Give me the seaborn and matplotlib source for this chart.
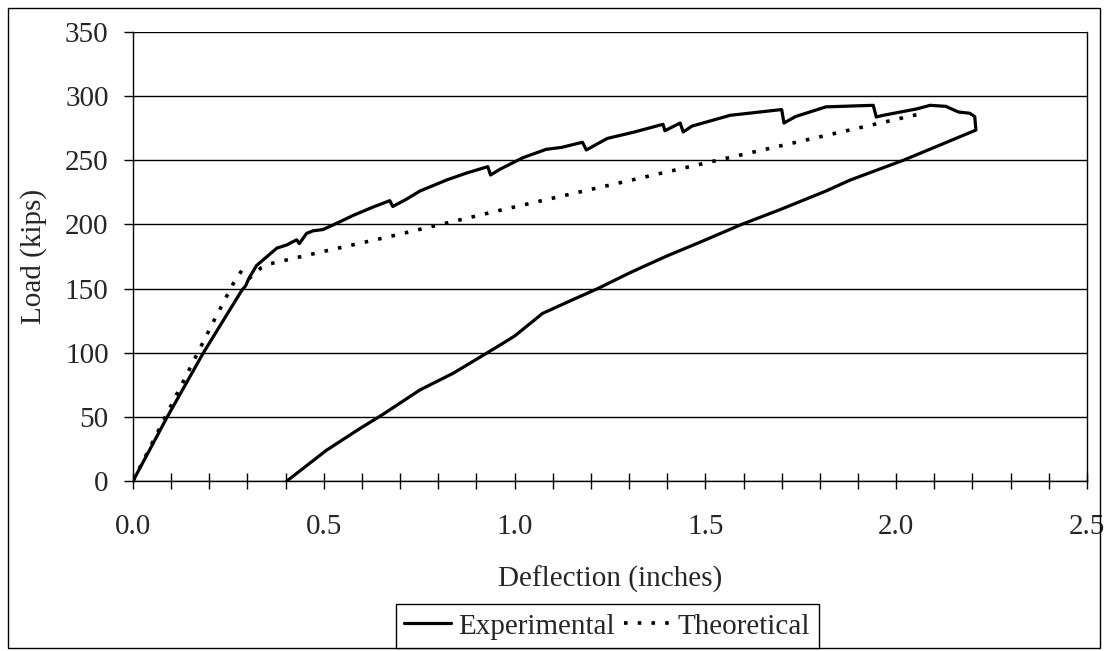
import pandas as pd
import matplotlib.pyplot as plt
import seaborn as sns
from matplotlib.ticker import MultipleLocator
from matplotlib.patches import Rectangle

# Experimental load-deflection curve (loading then unloading)
exp_defl = [0, 0.088, 0.184, 0.286, 0.295, 0.304, 0.324, 0.35, 0.377, 0.403, 0.429,
            0.436, 0.455, 0.472, 0.498, 0.524, 0.577, 0.629, 0.673, 0.681, 0.717,
            0.752, 0.822, 0.874, 0.93, 0.937, 0.962, 1.022, 1.083, 1.123, 1.178,
            1.188, 1.243, 1.314, 1.389, 1.394, 1.434, 1.442, 1.465, 1.565, 1.70,
            1.706, 1.736, 1.816, 1.94, 1.948, 1.966, 2.054, 2.089, 2.13, 2.163,
            2.193, 2.206, 2.209,
            2.1, 2.019, 1.879, 1.816, 1.7, 1.595, 1.485, 1.4, 1.344, 1.3, 1.218,
            1.15, 1.073, 1.05, 1.0, 0.962, 0.927, 0.839, 0.752, 0.652, 0.595,
            0.507, 0.403]
exp_load = [0, 49, 99.7, 149, 152, 158, 168, 174.6, 181.5, 184, 188,
            185, 193, 195, 196, 199.5, 207, 213.5, 218.5, 214, 219.7,
            226, 234.6, 240, 245, 238.5, 243, 252, 258.5, 260, 264,
            258, 267, 272, 278, 273, 279, 272, 276.6, 285, 289.5,
            279, 284, 291.6, 292.8, 283.7, 285, 290, 292.8, 292, 287.6,
            286.6, 284, 273.5,
            260, 250, 234.5, 226, 212, 200, 186, 175.5, 168, 162, 150,
            141, 130.6, 125, 113, 106, 99.7, 84, 71, 51.4, 41,
            24, 0]

# Theoretical curve
th_defl = [0, 0.215, 0.263, 0.285, 0.305, 0.335, 0.355, 0.5, 0.665, 0.962, 1.525, 2.067]
th_load = [0, 126.6, 154, 164, 158, 166, 169, 179, 190, 211, 249.5, 286.4]

sns.set_theme(style="white")
plt.rcParams['font.family'] = ['Liberation Serif', 'DejaVu Serif']
plt.rcParams['font.size'] = 21

fig = plt.figure(figsize=(11.08, 6.51), dpi=100)
ax = fig.add_axes([0.120, 0.261, 0.861, 0.690])

exp_df = pd.DataFrame({'x': exp_defl, 'y': exp_load})
th_df = pd.DataFrame({'x': th_defl, 'y': th_load})

sns.lineplot(data=exp_df, x='x', y='y', sort=False, estimator=None, color='black',
             linewidth=2.3, label='Experimental', ax=ax, zorder=3)
sns.lineplot(data=th_df, x='x', y='y', sort=False, estimator=None, color='black',
             linewidth=2.6, dashes=False, linestyle=(0, (1.0, 2.8)),
             label='Theoretical', ax=ax, zorder=3)

ax.set_xlim(0, 2.5)
ax.set_ylim(0, 350)
ax.xaxis.set_major_locator(MultipleLocator(0.5))
ax.xaxis.set_minor_locator(MultipleLocator(0.1))
ax.yaxis.set_major_locator(MultipleLocator(50))
ax.xaxis.set_major_formatter(plt.FormatStrFormatter('%.1f'))

ax.grid(axis='y', color='black', linewidth=1.0)
ax.grid(axis='x', visible=False)
ax.set_axisbelow(True)

for side in ['left', 'bottom', 'right']:
    ax.spines[side].set_color('black')
    ax.spines[side].set_linewidth(1.0)
ax.spines['top'].set_visible(False)

ax.tick_params(axis='x', which='both', direction='inout', length=11, width=1,
               color='black', pad=18, labelsize=21, bottom=True)
ax.tick_params(axis='y', which='major', direction='out', length=6.5, width=1,
               color='black', pad=11, labelsize=21, left=True)

ax.set_xlabel('Deflection (inches)', fontsize=21, labelpad=19)
ax.set_ylabel('Load (kips)', fontsize=21, labelpad=13)

handles, labels = ax.get_legend_handles_labels()
ax.get_legend().remove()
leg = fig.legend(handles, labels, loc='lower center', ncol=2,
                 bbox_to_anchor=(0.548, 0.004), fontsize=21, frameon=True,
                 fancybox=False, framealpha=1, edgecolor='black',
                 handlelength=1.6, handletextpad=0.25, columnspacing=0.3,
                 borderpad=0.3, borderaxespad=0)
leg.get_frame().set_linewidth(1.0)

# outer chart border
fig.patches.append(Rectangle((0.0072, 0.0046), 0.9856, 0.983, transform=fig.transFigure,
                             fill=False, edgecolor='black', linewidth=1.0))

plt.savefig('out.png', dpi=100)
plt.close()
